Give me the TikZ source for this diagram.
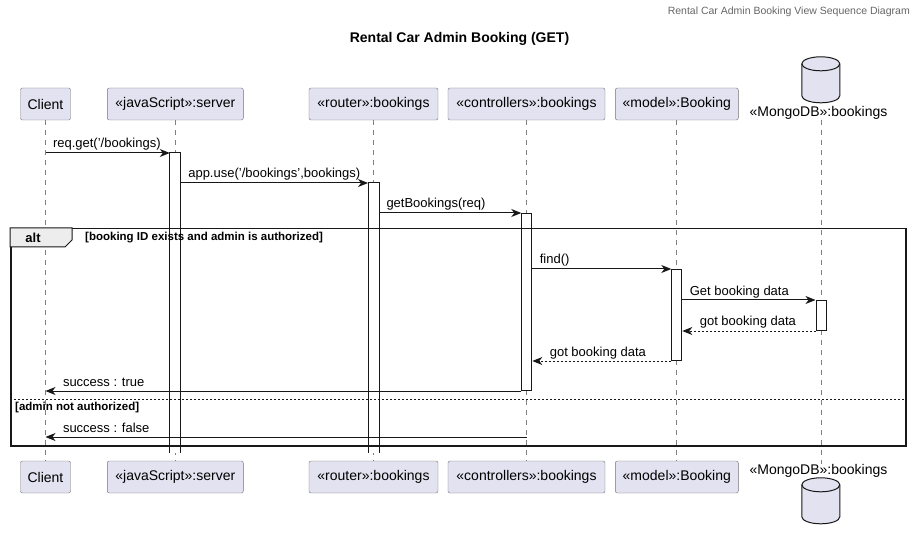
\documentclass[tikz,border=0pt]{standalone}
\usepackage{fontspec}
\setmainfont{Liberation Sans}
\usetikzlibrary{arrows.meta,positioning}
\definecolor{partfill}{HTML}{E2E2F0}
\definecolor{partline}{HTML}{181818}
\begin{document}
\begin{tikzpicture}[
  x=1pt,y=-1pt,
  font=\fontsize{13}{15}\selectfont,
  part/.style={draw=black!55,fill=partfill,rounded corners=2pt,minimum height=32,inner sep=0pt,font=\fontsize{14}{16}\selectfont},
  db/.style={minimum width=38,minimum height=46,inner sep=0pt},
  drum/.style={draw=partline,fill=partfill,line width=1pt},
  dblbl/.style={inner sep=0pt,font=\fontsize{14}{16}\selectfont},
  life/.style={draw=black!50,dash pattern=on 5pt off 5pt,line width=0.8pt},
  act/.style={draw=partline,fill=white,minimum width=10,inner sep=0pt,line width=1pt},
  openact/.style={act,draw=none},
  msg/.style={draw=partline,line width=1pt,-{Stealth[length=10pt,width=8pt,inset=3pt]}},
  ret/.style={msg,dash pattern=on 2pt off 2pt},
  lbl/.style={inner sep=0pt,anchor=base west,yshift=5pt},
  frame/.style={draw=partline,line width=1.5pt,inner sep=0pt},
  guard/.style={inner sep=0pt,font=\bfseries\fontsize{11.5}{13}\selectfont}
]
\useasboundingbox (0,0) rectangle (919,540);

% heading
\node[anchor=east,inner sep=0pt,text=black!60,font=\fontsize{10.5}{12}\selectfont] (head) at (910,12) {Rental Car Admin Booking View Sequence Diagram};
\node[inner sep=0pt,font=\bfseries\fontsize{14}{16}\selectfont] (title) at (459.5,39) {Rental Car Admin Booking (GET)};

% participants
\node[part,minimum width=50]  (client) at (45.5,104)  {Client};
\node[part,minimum width=136] (server) at (175.3,104) {«javaScript»:server};
\node[part,minimum width=129] (router) at (373.5,104) {«router»:bookings};
\node[part,minimum width=157] (ctrl)   at (526.5,104) {«controllers»:bookings};
\node[part,minimum width=123] (model)  at (676.8,104) {«model»:Booking};
\node[db] (db) at (821,80) {};
\node[dblbl] (dbname) at (818.5,113) {«MongoDB»:bookings};

\node[part,minimum width=50]  (clientB) at (45.5,477)  {Client};
\node[part,minimum width=136] (serverB) at (175.3,477) {«javaScript»:server};
\node[part,minimum width=129] (routerB) at (373.5,477) {«router»:bookings};
\node[part,minimum width=157] (ctrlB)   at (526.5,477) {«controllers»:bookings};
\node[part,minimum width=123] (modelB)  at (676.8,477) {«model»:Booking};
\node[dblbl] (dbnameB) at (818.5,471) {«MongoDB»:bookings};
\node[db] (dbB) at (821,501) {};

% database drums
\foreach \d in {db,dbB} {
  \draw[drum] (\d.north west) ++(0,7) -- ++(0,32)
    arc[start angle=180,end angle=0,x radius=19,y radius=7] -- ++(0,-32)
    arc[start angle=0,end angle=-180,x radius=19,y radius=7] -- cycle;
  \draw[drum,fill=none] (\d.north west) ++(0,7)
    arc[start angle=180,end angle=0,x radius=19,y radius=7];
}

% lifelines
\foreach \p in {client,server,router,ctrl,model}
  \draw[life] (\p.south) -- (\p B.north);
\draw[life] (db.south |- dbname.south) -- (db.south |- dbnameB.north);

% activations
\node[openact,minimum height=299,anchor=north] (actServer) at (175.3,153) {};
\node[openact,minimum height=269,anchor=north] (actRouter) at (373.5,183) {};
\foreach \a in {actServer,actRouter}
  \draw[draw=partline,line width=1pt] (\a.south west) -- (\a.north west) -- (\a.north east) -- (\a.south east);
\node[act,minimum height=177,anchor=north] (actCtrl)   at (526.8,213) {};
\node[act,minimum height=91,anchor=north]  (actModel)  at (676.8,269) {};
\node[act,minimum height=30,anchor=north]  (actDb)     at (821,300) {};
\coordinate (noAuth) at (526.5,437);

% alt frame
\node[frame,minimum width=895,minimum height=217,anchor=north west] (alt) at (10,228) {};
\draw[draw=partline,fill=black!7,line width=1pt] (alt.north west) -- ++(62,0) -- ++(0,12) -- ++(-7,7) -- ++(-55,0) -- cycle;
\node[inner sep=0pt,font=\bfseries\fontsize{13}{15}\selectfont] (alttag) at (33,238) {alt};
\node[guard,anchor=west] (cond1) at (85,238) {[booking ID exists and admin is authorized]};
\draw[draw=partline,line width=0.8pt,dash pattern=on 2pt off 2pt] (alt.west |- 0,399) -- (alt.east |- 0,399);
\node[guard,anchor=west] (cond2) at (15,408) {[admin not authorized]};

% messages
\draw[msg] (client |- actServer.north) -- (actServer.north west)
  node[lbl] at (client |- actServer.north) [xshift=7pt] {req.get('/bookings)};
\draw[msg] (actServer.east |- actRouter.north) -- (actRouter.north west)
  node[lbl] at (actServer.east |- actRouter.north) [xshift=7pt] {app.use('/bookings',bookings)};
\draw[msg] (actRouter.east |- actCtrl.north) -- (actCtrl.north west)
  node[lbl] at (actRouter.east |- actCtrl.north) [xshift=7pt] {getBookings(req)};
\draw[msg] (actCtrl.east |- actModel.north) -- (actModel.north west)
  node[lbl] at (actCtrl.east |- actModel.north) [xshift=7pt] {find()};
\draw[msg] (actModel.east |- actDb.north) -- (actDb.north west)
  node[lbl] at (actModel.east |- actDb.north) [xshift=7pt] {Get booking data};
\draw[ret] (actDb.south west) -- (actModel.east |- actDb.south)
  node[lbl,xshift=17pt] {got booking data};
\draw[ret] (actModel.south west) -- (actCtrl.east |- actModel.south)
  node[lbl,xshift=17pt] {got booking data};
\draw[msg] (actCtrl.south west) -- (client |- actCtrl.south)
  node[lbl,xshift=17pt] {success : true};
\draw[msg] (noAuth) -- (client |- noAuth)
  node[lbl,xshift=17pt] {success : false};
\end{tikzpicture}
\end{document}
